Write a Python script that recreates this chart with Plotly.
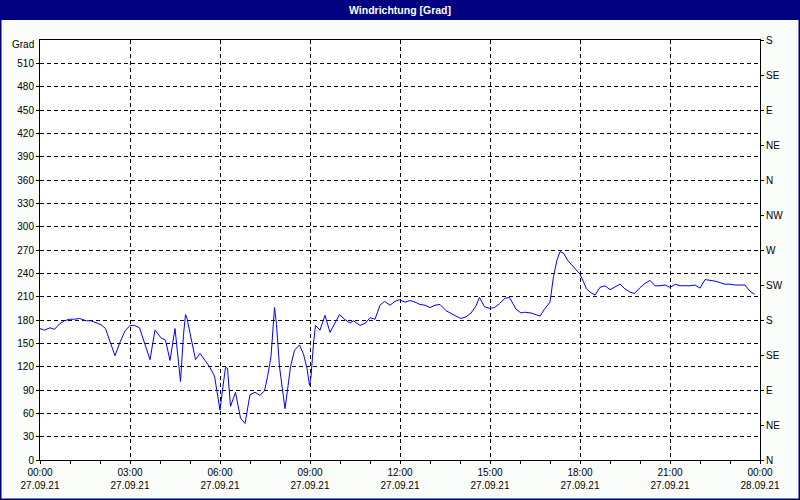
import plotly.graph_objects as go
from datetime import datetime, timedelta

# ---- data ----
times = ["00:00","00:09","00:20","00:29","00:39","00:49","00:59","01:09","01:19","01:32",
         "01:42","01:52","02:02","02:11","02:20","02:30","02:39","02:50","03:00","03:09",
         "03:19","03:29","03:40","03:50","04:02","04:11","04:20","04:30","04:35","04:41",
         "04:47","04:51","04:54","05:02","05:11","05:20","05:29","05:39","05:49","05:55",
         "06:00","06:05","06:11","06:15","06:21","06:31","06:41","06:50","07:00","07:10",
         "07:20","07:29","07:35","07:42","07:49","07:53","07:59","08:05","08:10","08:15",
         "08:21","08:29","08:39","08:47","08:54","08:59","09:02","09:07","09:11","09:20",
         "09:30","09:40","09:50","09:59","10:09","10:20","10:27","10:40","10:51","11:00",
         "11:10","11:20","11:29","11:40","11:50","11:59","12:10","12:20","12:30","12:40",
         "12:50","13:00","13:10","13:20","13:32","13:42","13:52","14:02","14:12","14:22",
         "14:31","14:39","14:49","14:59","15:09","15:19","15:30","15:39","15:52","16:02",
         "16:09","16:22","16:32","16:40","16:49","17:00","17:07","17:14","17:20","17:27",
         "17:35","17:45","17:54","18:00","18:07","18:13","18:22","18:30","18:40","18:50",
         "19:00","19:10","19:20","19:30","19:40","19:49","19:59","20:10","20:20","20:30",
         "20:40","20:50","21:00","21:11","21:20","21:30","21:40","21:50","22:00","22:10",
         "22:20","22:30","22:40","22:50","23:00","23:10","23:20","23:30","23:40","23:49"]

direction = [169,167,170,168,175,179,181,181,182,179,
             179,176,174,169,152,134,150,166,173,173,
             170,150,129,167,157,154,128,169,135,101,
             161,187,182,159,129,137,129,120,108,86,
             64,90,119,118,69,87,54,47,84,87,
             83,89,107,133,196,174,120,90,66,90,
             120,141,148,136,118,96,107,150,173,167,
             186,164,177,187,181,176,179,173,176,183,
             181,199,204,199,204,206,203,205,203,200,
             199,196,199,200,192,188,185,182,184,189,
             197,209,197,195,196,201,208,209,194,189,
             190,189,187,185,194,203,236,257,268,266,
             257,250,244,239,229,220,215,212,222,224,
             219,222,226,220,216,214,221,227,231,224,
             224,225,222,226,224,224,224,225,221,232,
             231,230,228,226,226,225,225,225,217,213]

hour_labels = ["00:00","03:00","06:00","09:00","12:00","15:00","18:00","21:00","00:00"]
date_labels = ["27.09.21"]*8 + ["28.09.21"]
left_ticks = list(range(0, 511, 30))
compass_labels = ["N","NE","E","SE","S","SW","W","NW","N","NE","E","SE","S"]
compass_values = list(range(0, 541, 45))

day0 = datetime(2021, 9, 27)
x = [day0 + timedelta(hours=int(t[:2]), minutes=int(t[3:])) for t in times]
tickvals = [day0 + timedelta(hours=3*i) for i in range(len(hour_labels))]
ticktext = [f"{h}<br>{d}" for h, d in zip(hour_labels, date_labels)]

font = "Liberation Sans"
fig = go.Figure()
fig.add_trace(go.Scatter(x=x, y=direction, mode="lines",
                         line=dict(color="#0000ff", width=1), showlegend=False))
# invisible trace for the right axis
fig.add_trace(go.Scatter(x=[x[0]], y=[0], yaxis="y2", mode="markers",
                         marker=dict(opacity=0), showlegend=False, hoverinfo="skip"))

W, H, L, R, T, B = 800, 500, 40, 40, 40, 40
pw, ph = W - L - R, H - T - B

fig.update_layout(
    width=W, height=H,
    margin=dict(l=L, r=R, t=T, b=B, autoexpand=False),
    paper_bgcolor="#fbfdfb", plot_bgcolor="#ffffff",
    font=dict(family=font, size=10, color="#000000"),
    xaxis=dict(
        type="date", automargin=False,
        range=[day0, day0 + timedelta(days=1)],
        tickvals=tickvals, ticktext=ticktext,
        ticks="outside", ticklen=3, tickcolor="#000000",
        showgrid=True, gridcolor="#000000", griddash="4px,3px", gridwidth=1,
        showline=True, linecolor="#000000", linewidth=1, mirror=True,
        zeroline=False,
        minor=dict(dtick=3600000, tick0=day0, ticks="outside", ticklen=3,
                   tickcolor="#000000", showgrid=False),
        tickfont=dict(family=font, size=10),
    ),
    yaxis=dict(
        range=[0, 540], tickvals=left_ticks, automargin=False,
        ticks="outside", ticklen=3, tickcolor="#000000",
        showgrid=True, gridcolor="#000000", griddash="4px,3px", gridwidth=1,
        showline=True, linecolor="#000000", linewidth=1, mirror=True,
        zeroline=False, tickfont=dict(family=font, size=10),
    ),
    yaxis2=dict(
        range=[0, 540], overlaying="y", side="right", automargin=False,
        tickvals=compass_values, ticktext=compass_labels,
        ticks="outside", ticklen=3, tickcolor="#000000",
        showgrid=False, showline=True, linecolor="#000000", linewidth=1,
        zeroline=False, tickfont=dict(family=font, size=10),
    ),
    shapes=[
        dict(type="rect", xref="paper", yref="paper",
             x0=-L/pw, x1=1+R/pw, y0=1+(T-20)/ph, y1=1+T/ph,
             fillcolor="#000080", line=dict(width=0), layer="above"),
        dict(type="rect", xref="paper", yref="paper",
             x0=-L/pw, x1=1+R/pw, y0=-B/ph, y1=1+T/ph,
             line=dict(color="#000080", width=3), fillcolor="rgba(0,0,0,0)",
             layer="above"),
    ],
    annotations=[
        dict(text="<b>Windrichtung [Grad]</b>", xref="paper", yref="paper",
             x=0.5, y=1+(T-10)/ph, xanchor="center", yanchor="middle",
             showarrow=False, font=dict(family=font, size=10.5, color="#ffffff")),
        dict(text="Grad", xref="paper", yref="paper",
             x=-4/pw, y=1-5/ph, xanchor="right", yanchor="middle",
             showarrow=False, font=dict(family=font, size=10, color="#000000")),
    ],
)

fig.write_html("out.html",
               config={"displayModeBar": False},
               post_script="document.body.style.margin='0';document.body.style.overflow='hidden';")
